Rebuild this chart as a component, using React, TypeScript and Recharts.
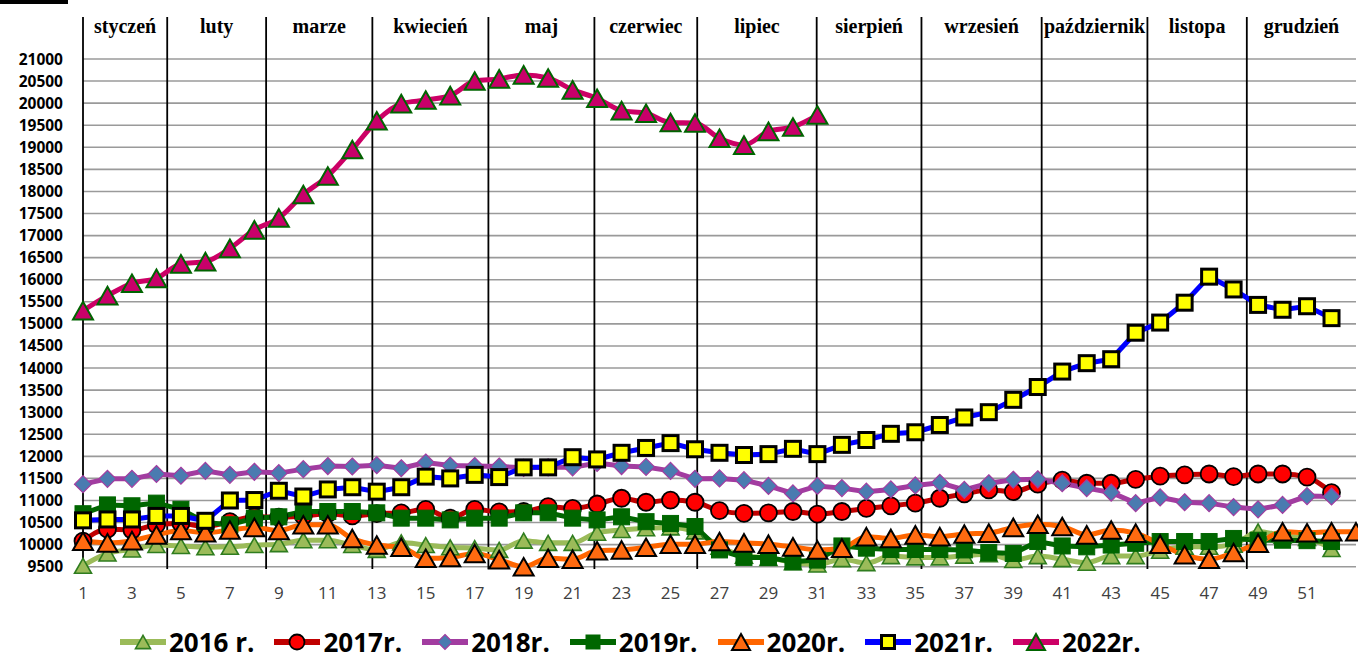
import React from "react";
import { LineChart, Line, XAxis, YAxis, CartesianGrid, ReferenceLine, ReferenceDot } from "recharts";

// tygodnie roku
const weeks = [1, 2, 3, 4, 5, 6, 7, 8, 9, 10, 11, 12, 13, 14, 15, 16, 17, 18, 19, 20, 21, 22, 23, 24, 25, 26, 27, 28, 29, 30, 31, 32, 33, 34, 35, 36, 37, 38, 39, 40, 41, 42, 43, 44, 45, 46, 47, 48, 49, 50, 51, 52, 53];
const xTicks = [1, 3, 5, 7, 9, 11, 13, 15, 17, 19, 21, 23, 25, 27, 29, 31, 33, 35, 37, 39, 41, 43, 45, 47, 49, 51];
const yTicks = [9500, 10000, 10500, 11000, 11500, 12000, 12500, 13000, 13500, 14000, 14500, 15000, 15500, 16000, 16500, 17000, 17500, 18000, 18500, 19000, 19500, 20000, 20500, 21000];

const months = ["styczeń", "luty", "marze", "kwiecień", "maj", "czerwiec", "lipiec", "sierpień", "wrzesień", "październik", "listopa", "grudzień"];
// tydzień, w którym zaczyna się miesiąc
const monthStarts = [1, 4.44, 8.48, 12.82, 17.56, 21.89, 26.09, 30.97, 35.25, 40.16, 44.48, 48.54];

const y2016 = [9520, 9800, 9890, 9990, 9970, 9940, 9950, 9990, 10010, 10100, 10100, 9990, 9880, 10050, 9990, 9940, 9920, 9880, 10090, 10040, 10040, 10270, 10330, 10370, 10390, 10300, 9950, 9750, 9700, 9600, 9550, 9670, 9580, 9740, 9710, 9710, 9750, 9780, 9650, 9740, 9670, 9590, 9740, 9740, 9860, 9950, 9950, 10000, 10300, 10200, 10150, 9900];
const y2017 = [10080, 10350, 10330, 10450, 10480, 10410, 10520, 10630, 10620, 10650, 10700, 10650, 10700, 10720, 10800, 10600, 10800, 10740, 10750, 10860, 10820, 10920, 11050, 10960, 11010, 10960, 10770, 10710, 10720, 10750, 10690, 10750, 10820, 10880, 10940, 11050, 11150, 11240, 11200, 11370, 11460, 11390, 11390, 11480, 11550, 11580, 11600, 11540, 11600, 11600, 11530, 11180];
const y2018 = [11370, 11490, 11490, 11600, 11560, 11670, 11580, 11650, 11620, 11710, 11780, 11770, 11800, 11730, 11860, 11790, 11780, 11770, 11740, 11750, 11750, 11850, 11780, 11760, 11670, 11490, 11500, 11460, 11330, 11160, 11330, 11280, 11200, 11250, 11340, 11400, 11240, 11390, 11470, 11480, 11390, 11280, 11180, 10940, 11070, 10960, 10940, 10850, 10800, 10900, 11100, 11090];
const y2019 = [10700, 10900, 10880, 10940, 10800, 10500, 10450, 10600, 10630, 10750, 10750, 10750, 10720, 10600, 10600, 10560, 10600, 10600, 10720, 10720, 10600, 10560, 10630, 10520, 10480, 10410, 9880, 9710, 9710, 9610, 9650, 9970, 9920, 9890, 9890, 9890, 9880, 9820, 9800, 10070, 9970, 9950, 9990, 10030, 10070, 10070, 10070, 10140, 10100, 10100, 10090, 10070];
const y2020 = [10080, 10040, 10090, 10220, 10320, 10270, 10330, 10390, 10320, 10450, 10450, 10140, 9990, 9940, 9690, 9710, 9800, 9660, 9500, 9690, 9670, 9860, 9880, 9940, 10010, 10010, 10070, 10040, 10010, 9950, 9880, 9920, 10180, 10140, 10220, 10180, 10240, 10260, 10390, 10460, 10410, 10220, 10330, 10260, 10010, 9770, 9670, 9820, 10030, 10290, 10270, 10290, 10290];
const y2021 = [10550, 10570, 10570, 10650, 10650, 10540, 11000, 11010, 11220, 11090, 11250, 11300, 11200, 11300, 11540, 11500, 11580, 11530, 11750, 11750, 11980, 11930, 12080, 12190, 12300, 12160, 12080, 12030, 12050, 12170, 12050, 12260, 12370, 12510, 12545, 12710, 12880, 13000, 13280, 13570, 13920, 14110, 14200, 14800, 15030, 15480, 16070, 15780, 15430, 15320, 15400, 15130];
const y2022 = [15300, 15640, 15920, 16030, 16360, 16410, 16710, 17130, 17400, 17930, 18350, 18950, 19600, 19990, 20070, 20170, 20500, 20550, 20640, 20570, 20300, 20110, 19830, 19770, 19560, 19550, 19205, 19050, 19360, 19460, 19730];

const data = weeks.map((w, i) => ({
  week: w,
  y2016: y2016[i] ?? null,
  y2017: y2017[i] ?? null,
  y2018: y2018[i] ?? null,
  y2019: y2019[i] ?? null,
  y2020: y2020[i] ?? null,
  y2021: y2021[i] ?? null,
  y2022: y2022[i] ?? null,
}));

type MarkerKind = "triangle" | "circle" | "diamond" | "square";
type MarkerStyle = { kind: MarkerKind; fill: string; stroke: string; size: number; sw: number };

function markerShape(m: MarkerStyle, cx: number, cy: number, key?: string) {
  const s = m.size / 2;
  if (m.kind === "circle") {
    return <circle key={key} cx={cx} cy={cy} r={s} fill={m.fill} stroke={m.stroke} strokeWidth={m.sw} />;
  }
  if (m.kind === "square") {
    return <rect key={key} x={cx - s} y={cy - s} width={m.size} height={m.size} fill={m.fill} stroke={m.stroke} strokeWidth={m.sw} />;
  }
  if (m.kind === "diamond") {
    return <path key={key} d={`M${cx},${cy - s}L${cx + s},${cy}L${cx},${cy + s}L${cx - s},${cy}Z`} fill={m.fill} stroke={m.stroke} strokeWidth={m.sw} />;
  }
  const h = m.size * 0.88;
  return <path key={key} d={`M${cx},${cy - h / 2}L${cx + s},${cy + h / 2}L${cx - s},${cy + h / 2}Z`} fill={m.fill} stroke={m.stroke} strokeWidth={m.sw} strokeLinejoin="miter" />;
}

const dotFor = (m: MarkerStyle) => (p: any) => {
  const key = `dot-${p.index}`;
  if (p.cx == null || p.cy == null || p.value == null) return <g key={key} />;
  return markerShape(m, p.cx, p.cy, key);
};

const series = [
  { key: "y2016", name: "2016 r.", color: "#9bbb59", type: "monotone", marker: { kind: "triangle", fill: "#9bbb59", stroke: "#2f7d1f", size: 17, sw: 1.6 } },
  { key: "y2017", name: "2017r.", color: "#c00000", type: "monotone", marker: { kind: "circle", fill: "#ff0000", stroke: "#000000", size: 17, sw: 1.8 } },
  { key: "y2018", name: "2018r.", color: "#a23ca0", type: "linear", marker: { kind: "diamond", fill: "#4a7bb0", stroke: "#a23ca0", size: 17, sw: 1.2 } },
  { key: "y2019", name: "2019r.", color: "#006600", type: "linear", marker: { kind: "square", fill: "#006600", stroke: "#006600", size: 16, sw: 1 } },
  { key: "y2020", name: "2020r.", color: "#ff6600", type: "monotone", marker: { kind: "triangle", fill: "#ff6a10", stroke: "#000000", size: 20, sw: 2 } },
  { key: "y2021", name: "2021r.", color: "#0000ff", type: "linear", marker: { kind: "square", fill: "#ffff00", stroke: "#000000", size: 15, sw: 3 } },
  { key: "y2022", name: "2022r.", color: "#cc0066", type: "monotone", marker: { kind: "triangle", fill: "#c8006a", stroke: "#006400", size: 20, sw: 2 } },
] as { key: string; name: string; color: string; type: "monotone" | "linear"; marker: MarkerStyle }[];

const monthMid = months.map((_, i) => (monthStarts[i] + (i + 1 < monthStarts.length ? monthStarts[i + 1] : 53)) / 2);

function Legend() {
  return (
    <div style={{ position: "absolute", left: 120, top: 622, height: 40, display: "flex", alignItems: "center", fontFamily: "'Open Sans', sans-serif", fontWeight: 700, fontSize: 26, color: "#000", whiteSpace: "nowrap" }}>
      {series.map((s) => (
        <div key={s.key} style={{ display: "flex", alignItems: "center", marginRight: 20, flexShrink: 0 }}>
          <svg width={46} height={26} style={{ marginRight: 3, flexShrink: 0 }}>
            <line x1={0} y1={13} x2={46} y2={13} stroke={s.color} strokeWidth={6} />
            {markerShape({ ...s.marker, size: s.marker.size - 2 }, 23, 13)}
          </svg>
          <span style={{ lineHeight: "40px", display: "inline-block" }}>{s.name}</span>
        </div>
      ))}
    </div>
  );
}

export default function App() {
  return (
    <div style={{ position: "absolute", left: 0, top: 0, width: 1358, height: 659, background: "#fff", overflow: "hidden" }}>
      <div style={{ position: "absolute", left: 0, top: 0, width: 68, height: 4, background: "#000" }} />
      <LineChart width={1358} height={610} data={data} margin={{ top: 59, right: 2, bottom: 0, left: 0 }}>
        <CartesianGrid vertical={false} stroke="#9a9a9a" strokeWidth={1.6} />
        <XAxis
          type="number"
          dataKey="week"
          domain={[1, 53]}
          ticks={xTicks}
          interval={0}
          height={43.3}
          axisLine={false}
          tickLine={false}
          tickSize={0}
          tickMargin={20}
          tick={{ fill: "#404040", fontSize: 17, fontFamily: "'Open Sans', sans-serif" }}
        />
        <YAxis
          type="number"
          domain={[9500, 21000]}
          ticks={yTicks}
          interval={0}
          width={83}
          axisLine={false}
          tickLine={false}
          tickSize={0}
          tickMargin={20}
          tick={{ fill: "#000", fontSize: 15.5, fontWeight: 700, fontFamily: "'Open Sans', sans-serif" }}
        />
        {monthStarts.map((b) => (
          <ReferenceLine
            key={`b-${b}`}
            segment={[{ x: b, y: 21950 }, { x: b, y: 9450 }]}
            stroke="#000"
            strokeWidth={1.8}
            ifOverflow="visible"
          />
        ))}
        {months.map((m, i) => (
          <ReferenceDot
            key={`m-${m}`}
            x={monthMid[i]}
            y={21700}
            r={1}
            fill="none"
            stroke="none"
            ifOverflow="visible"
            label={(p: any) => {
              const vb = p.viewBox || {};
              const cx = (vb.x ?? 0) + (vb.width ?? 0) / 2;
              const cy = (vb.y ?? 0) + (vb.height ?? 0) / 2;
              return (
                <text x={cx} y={cy + 5} textAnchor="middle" fontFamily="'Liberation Serif', serif" fontWeight={700} fontSize={20} fill="#000">
                  {m}
                </text>
              );
            }}
          />
        ))}
        {series.map((s) => (
          <Line
            key={s.key}
            dataKey={s.key}
            name={s.name}
            type={s.type}
            stroke={s.color}
            strokeWidth={5}
            dot={dotFor(s.marker)}
            activeDot={false}
            connectNulls={false}
            isAnimationActive={false}
          />
        ))}
      </LineChart>
      <Legend />
    </div>
  );
}
